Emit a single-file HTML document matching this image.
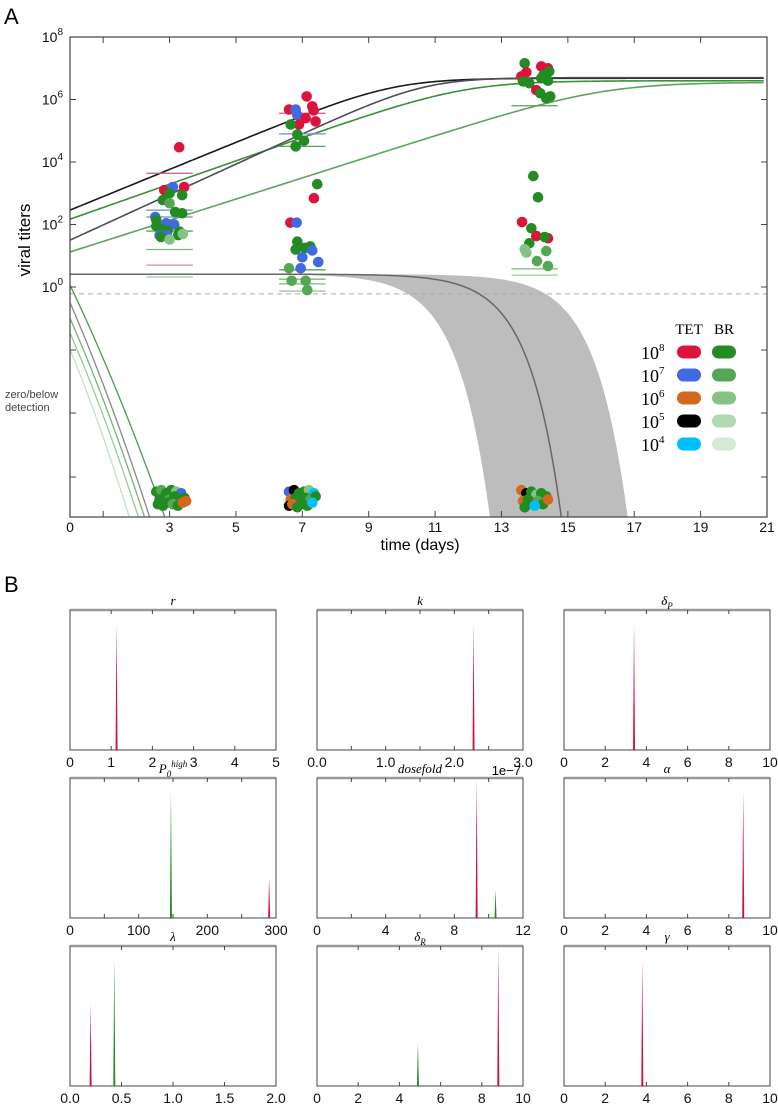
<!DOCTYPE html>
<html><head><meta charset="utf-8"><style>
html,body{margin:0;background:#fff;overflow:hidden;width:778px;height:1107px}
svg{display:block;font-family:"Liberation Sans",sans-serif}
.tk{font-size:14px;fill:#111}
.tt{font-family:"Liberation Serif",serif;font-style:italic;font-size:13px}
</style></head><body>
<svg id="fig" width="778" height="1107" viewBox="0 0 778 1107">
<defs><clipPath id="mc"><rect x="70" y="37" width="697" height="480"/></clipPath></defs>
<text x="4" y="24" font-size="22">A</text>
<text x="4" y="592" font-size="22">B</text>
<g id="main"></g>
<g id="subs"></g>
</svg>
<script>
// ---- main chart data ----
const xTicks=[0,3,5,7,9,11,13,15,17,19,21];
const yTickExp=[8,6,4,2,0];
const curveLogV0=[2.46,2.17,1.5,1.12];
const curveRate=[1.0,0.86,1.12,0.78];
const curveLogK=[6.68,6.6,6.7,6.55];
const curveColor=['#1a1a1a','#3c8f3c','#4d4d5a','#5fa35f'];
const dropStartLog=[0.06,-0.5,-1.0,-1.47,-2.0];
const dropEndT=[2.85,2.4,2.25,2.07,1.8];
const dropColor=['#4a9a4a','#888','#7ab07a','#9cc79c','#c5e0c5'];
const declinePlateau=0.41, declineMid=11.9, declineRate=1.014, bandShiftLeft=-2.15, bandShiftRight=2.0;
const ptT=[3.29,2.84,3.44,3.1,3.0,2.8,3.38,3.0,3.17,3.38,2.57,2.6,2.9,3.14,2.6,2.74,2.94,3.3,3.38,2.92,2.7,2.74,3.26,3.0,3.4,
7.13,6.6,7.3,7.34,6.8,6.85,7.1,6.9,7.4,6.65,6.85,7.05,6.8,7.45,7.35,6.64,6.83,6.85,6.8,7.08,7.24,7.3,7.0,7.48,6.95,6.6,6.68,7.1,7.15,
13.7,14.2,14.4,13.75,14.44,13.6,14.26,13.65,13.84,14.2,14.4,14.05,14.17,14.35,14.47,
13.96,14.1,13.62,13.9,14.05,14.4,13.84,14.3,13.7,13.75,14.35,14.07,14.4];
const ptLog=[4.47,3.1,3.2,3.2,3.0,2.78,2.94,2.68,2.4,2.36,2.24,2.14,2.04,2.0,1.95,1.85,1.8,1.77,1.7,1.66,1.65,1.6,1.66,1.52,1.7,
6.1,5.68,5.78,5.65,5.68,5.5,5.4,5.2,5.3,5.2,4.88,4.68,4.5,3.29,2.84,2.06,2.06,1.45,1.2,1.25,1.3,1.17,0.95,0.8,0.6,0.6,0.2,0.2,-0.1,
7.16,7.06,7.0,6.87,6.9,6.74,6.77,6.58,6.52,6.68,6.6,6.3,6.2,6.04,6.1,
3.55,2.87,2.08,1.88,1.63,1.56,1.4,1.6,1.21,1.1,1.15,0.83,0.67];
const ptCol=['r','r','r','b','g1','g1','g1','g2','g1','g1','b','g1','b','b','g1','g1','g1','g1','g1','b','b','g1','g1','g3','g3',
'r','r','r','r','b','b','r','r','r','g1','g1','g1','g1','g1','r','r','b','g1','g1','g1','g1','b','b','b','b','g2','g2','g2','g2',
'g1','r','r','r','g1','r','g1','g1','g1','g1','g1','r','g1','g1','g1',
'g1','g1','r','g1','r','r','g1','g1','g3','g3','g2','g2','g2'];
const zT=[2.6,2.75,2.9,3.05,3.2,3.35,2.7,2.85,3.0,3.15,3.3,3.45,2.65,2.8,2.95,3.1,3.25,3.4,3.5,
6.6,6.75,6.9,7.05,7.2,7.35,6.65,6.8,6.95,7.1,7.25,7.4,6.6,6.7,6.85,7.0,7.15,7.3,
13.6,13.75,13.9,14.05,14.2,14.35,13.65,13.8,13.95,14.1,14.25,14.4,13.7,14.0];
const zLog=[-6.55,-6.5,-6.6,-6.5,-6.55,-6.6,-6.8,-6.75,-6.8,-6.7,-6.8,-6.75,-6.95,-7.0,-6.9,-6.95,-7.0,-6.9,-6.85,
-6.55,-6.5,-6.6,-6.55,-6.5,-6.6,-6.8,-6.75,-6.85,-6.75,-6.8,-6.7,-7.0,-6.95,-7.05,-6.95,-7.0,-6.9,
-6.5,-6.6,-6.55,-6.65,-6.6,-6.7,-6.85,-6.8,-6.9,-6.85,-6.95,-6.8,-7.05,-7.0];
const zCol=['g1','g2','g1','g1','g3','b','g1','g1','g2','g1','g1','g1','g1','g1','g1','g2','g1','o','o',
'b','k','g1','g1','g3','c','o','g1','g1','g1','g2','g1','k','o','g1','g1','g1','c',
'o','k','g1','g3','g1','g1','o','g1','g1','g2','g1','o','g1','c'];
const meanT=[3,3,3,3,3,3,3,7,7,7,7,7,7,7,14,14,14];
const meanLog=[3.64,2.46,2.24,1.79,1.2,0.7,0.32,5.56,4.9,4.5,0.55,0.25,0.1,-0.13,5.8,0.58,0.38];
const meanCol=['#c85a7a','#6a8fc8','#6a8fc8','#5aa05a','#7ab87a','#d09090','#a0c8a0','#c85a7a','#6a8fc8','#5aa05a','#5aa05a','#7ab87a','#7ab87a','#a0c8a0','#5aa05a','#7ab87a','#a0c8a0'];
const legendExp=[8,7,6,5,4];
const palette={r:'#dc143c',b:'#4169e1',o:'#d2691e',k:'#000000',c:'#00bfff',g1:'#228b22',g2:'#55a655',g3:'#85c385',g4:'#b3d9b3',g5:'#d5ead5'};
const tetKeys=['r','b','o','k','c'], brKeys=['g1','g2','g3','g4','g5'];

// ---- subplot data ----
const subTitles=['r','k','δ_P','P_0^high','dosefold','α','λ','δ_R','γ'];
const subMax=[5,3,10,300,12,10,2,10,10];
const subTickStep=[1,0.5,2,50,2,2,0.5,2,2];
const subLabels=[['0','1','2','3','4','5'],['0.0','1.0','2.0','3.0'],['0','2','4','6','8','10'],['0','100','200','300'],['0','4','8','12'],['0','2','4','6','8','10'],['0.0','0.5','1.0','1.5','2.0'],['0','2','4','6','8','10'],['0','2','4','6','8','10']];
const subLabelVals=[[0,1,2,3,4,5],[0,1,2,3],[0,2,4,6,8,10],[0,100,200,300],[0,4,8,12],[0,2,4,6,8,10],[0,0.5,1,1.5,2],[0,2,4,6,8,10],[0,2,4,6,8,10]];
const peakRedPos=[1.13,2.28,3.4,290,9.3,8.7,0.2,8.8,3.8];
const peakRedH=[0.91,0.91,0.91,0.29,1.0,0.91,0.59,1.0,0.91];
const peakGreenPos=[null,null,null,147,10.4,null,0.43,4.9,null];
const peakGreenH=[0,0,0,0.91,0.2,0,0.91,0.31,0];

const NS='http://www.w3.org/2000/svg';
function mk(tag,attrs,parent){const e=document.createElementNS(NS,tag);for(const k in attrs)e.setAttribute(k,attrs[k]);parent.appendChild(e);return e;}
const X=t=>70+t*(767-70)/21;
const Y=l=>287-31.25*l;
const main=document.getElementById('main');

function declineLog(t){return declinePlateau-declinePlateau*Math.exp(declineRate*(t-declineMid));}
const clipG=mk('g',{'clip-path':'url(#mc)'},main);


let bp=[];
for(let t=0;t<=21;t+=0.05)bp.push(X(t)+','+Y(declineLog(t-bandShiftLeft)));
for(let t=21;t>=0;t-=0.05)bp.push(X(t)+','+Y(declineLog(t-bandShiftRight)));
const band=mk('polygon',{points:bp.join(' '),fill:'#bdbdbd'},clipG);


const dl=mk('line',{x1:70,x2:767,y1:Y(-0.22),y2:Y(-0.22),stroke:'#aaa','stroke-dasharray':'5,4','stroke-width':1},clipG);


let dp=[];
for(let t=0;t<=21;t+=0.05)dp.push(X(t)+','+Y(declineLog(t)));
const dcl=mk('polyline',{points:dp.join(' '),fill:'none',stroke:'#666','stroke-width':1.5},clipG);


for(let i=0;i<dropStartLog.length;i++){
 const pts=[];const endL=-7.6;
 for(let s=0;s<=1.0001;s+=0.05){const t=s*dropEndT[i]*1.03;const l=dropStartLog[i]+(endL-dropStartLog[i])*(s*0.85+0.15*s*s);pts.push(X(t)+','+Y(l));}
 const p=mk('polyline',{points:pts.join(' '),fill:'none',stroke:dropColor[i],'stroke-width':1.3},clipG);
 
 
}
for(let i=0;i<curveLogV0.length;i++){
 const V0=Math.pow(10,curveLogV0[i]),K=Math.pow(10,curveLogK[i]);const pts=[];
 for(let t=0;t<=21;t+=0.1){const v=K/(1+(K/V0-1)*Math.exp(-curveRate[i]*t));pts.push(X(t)+','+Y(Math.log10(v)));}
 const p=mk('polyline',{points:pts.join(' '),fill:'none',stroke:curveColor[i],'stroke-width':1.6},clipG);
 
 
}
for(let i=0;i<meanT.length;i++){
 const m=mk('line',{x1:X(meanT[i]-0.7),x2:X(meanT[i]+0.7),y1:Y(meanLog[i]),y2:Y(meanLog[i]),stroke:meanCol[i],'stroke-width':1.3},clipG);
 
 
}
for(let i=0;i<ptT.length;i++){
 const c=mk('circle',{cx:X(ptT[i]),cy:Y(ptLog[i]),r:5.3,fill:palette[ptCol[i]]},clipG);
 
 
}
for(let i=0;i<zT.length;i++){
 const c=mk('circle',{cx:X(zT[i]),cy:Y(zLog[i]),r:5.3,fill:palette[zCol[i]]},clipG);
 
 
}
const fr=mk('rect',{x:70,y:37,width:697,height:480,fill:'none',stroke:'#444','stroke-width':1.2},main);


for(let t=1;t<=21;t+=2){
 mk('line',{x1:X(t),x2:X(t),y1:517,y2:511,stroke:'#444'},main);
 mk('line',{x1:X(t),x2:X(t),y1:37,y2:43,stroke:'#444'},main);
}
for(let i=0;i<xTicks.length;i++){
 const tx=mk('text',{x:X(xTicks[i]),y:532,'text-anchor':'middle',class:'tk'},main);
 tx.textContent=xTicks[i];
 
 
}
for(const yy of [Y(8),Y(6),Y(4),Y(2),Y(0),350,413,477]){
 mk('line',{x1:70,x2:76,y1:yy,y2:yy,stroke:'#444'},main);
 mk('line',{x1:767,x2:761,y1:yy,y2:yy,stroke:'#444'},main);
}
for(let i=0;i<yTickExp.length;i++){
 const tx=mk('text',{x:63,y:Y(yTickExp[i])+5,'text-anchor':'end',class:'tk'},main);
 
 
 tx.innerHTML='10<tspan dy="-7" font-size="10">'+yTickExp[i]+'</tspan>';
}
const xt=mk('text',{x:420,y:550,'text-anchor':'middle','font-size':16},main);
xt.textContent='time (days)';


const yt=mk('text',{x:0,y:0,'text-anchor':'middle','font-size':17,transform:'translate(30,240) rotate(-90)'},main);
yt.textContent='viral titers';


const z1=mk('text',{x:5,y:398,'font-size':11,fill:'#444'},main);z1.textContent='zero/below';


const z2=mk('text',{x:5,y:411,'font-size':11,fill:'#444'},main);z2.textContent='detection';


const lg=mk('g',{},main);


const lt1=mk('text',{x:689,y:334,'text-anchor':'middle','font-family':'Liberation Serif,serif','font-size':15},lg);lt1.textContent='TET';


const lt2=mk('text',{x:724,y:334,'text-anchor':'middle','font-family':'Liberation Serif,serif','font-size':15},lg);lt2.textContent='BR';


for(let i=0;i<legendExp.length;i++){
 const y=352+i*23;
 const t=mk('text',{x:641,y:y+7,'font-family':'Liberation Serif,serif','font-size':18},lg);
 t.innerHTML='10<tspan dy="-8" font-size="11">'+legendExp[i]+'</tspan>';
 
 
 const a=mk('rect',{x:677,y:y-6.5,width:24,height:13,rx:6.5,fill:palette[tetKeys[i]]},lg);
 
 
 const b=mk('rect',{x:712,y:y-6.5,width:24,height:13,rx:6.5,fill:palette[brKeys[i]]},lg);
 
 
}

const subs=document.getElementById('subs');
const colX=[70,317,564],rowY=[610,778,946],W=206,H=140;
function titleHTML(s){
 if(s==='δ_P')return 'δ<tspan dy="4" font-size="9">P</tspan>';
 if(s==='δ_R')return 'δ<tspan dy="4" font-size="9">R</tspan>';
 if(s==='P_0^high')return 'P<tspan dy="4" font-size="9">0</tspan><tspan dy="-10" font-size="9">high</tspan>';
 return s;
}
for(let i=0;i<9;i++){
 const x0=colX[i%3],y0=rowY[Math.floor(i/3)];
 const g=mk('g',{},subs);
 
 
 const sx=v=>x0+v/subMax[i]*W;
 const fr=mk('rect',{x:x0,y:y0,width:W,height:H,fill:'none',stroke:'#444','stroke-width':1},g);
 
 
 mk('line',{x1:x0,x2:x0+W,y1:y0,y2:y0,stroke:'#999','stroke-width':2.5},g);
 for(let v=0;v<=subMax[i]+1e-9;v+=subTickStep[i]){
  mk('line',{x1:sx(v),x2:sx(v),y1:y0+H,y2:y0+H-4,stroke:'#444'},g);
  mk('line',{x1:sx(v),x2:sx(v),y1:y0,y2:y0+4,stroke:'#444'},g);
 }
 for(let j=0;j<subLabels[i].length;j++){
  const t=mk('text',{x:sx(subLabelVals[i][j]),y:y0+H+17,'text-anchor':'middle',class:'tk'},g);
  t.textContent=subLabels[i][j];
  
  
 }
 const tt=mk('text',{x:x0+W/2,y:y0-5,'text-anchor':'middle',class:'tt'},g);
 tt.innerHTML=titleHTML(subTitles[i]);
 
 
 if(peakRedPos[i]!==null){
  const px=sx(peakRedPos[i]),top=y0+H-peakRedH[i]*H;
  const p=mk('polygon',{points:(px-1)+','+(y0+H)+' '+px+','+top+' '+(px+1)+','+(y0+H),fill:'#d0103a'},g);
  
  
 }
 if(peakGreenPos[i]!==null){
  const px=sx(peakGreenPos[i]),top=y0+H-peakGreenH[i]*H;
  const p=mk('polygon',{points:(px-1)+','+(y0+H)+' '+px+','+top+' '+(px+1)+','+(y0+H),fill:'#228b22'},g);
  
  
 }
 if(subTitles[i]==='dosefold'){
  const e=mk('text',{x:x0+W-2,y:y0-3,'text-anchor':'end','font-size':13},g);
  e.textContent='1e−7';
  
  
 }
}
</script>
</body></html>
